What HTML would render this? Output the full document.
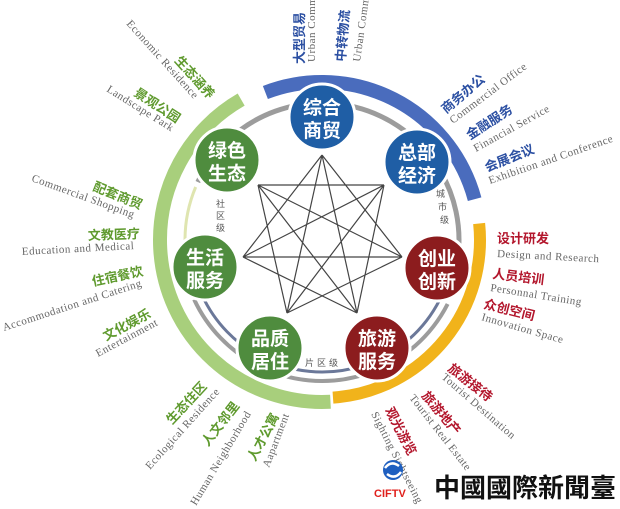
<!DOCTYPE html>
<html><head><meta charset="utf-8"><style>
html,body{margin:0;padding:0;background:#fff;}
svg{display:block;}
.cn{font-family:"Liberation Sans","Noto Sans CJK SC",sans-serif;font-weight:bold;}
.en{font-family:"Liberation Serif",serif;fill:#666;font-size:11px;letter-spacing:0.5px;}
.b{fill:#2b4fa2;font-size:13px;}
.g{fill:#5f9a2e;font-size:13px;}
.r{fill:#b3162c;font-size:13px;}
.node{font-family:"Liberation Sans","Noto Sans CJK SC",sans-serif;fill:#fff;font-size:19px;font-weight:bold;text-anchor:middle;}
.sm{font-family:"Liberation Sans","Noto Sans CJK SC",sans-serif;font-size:9px;fill:#555;}
</style></head><body>
<svg width="620" height="509" viewBox="0 0 620 509" xmlns="http://www.w3.org/2000/svg">
<circle cx="322" cy="240" r="158" fill="none" stroke="#4a6cbd" stroke-width="14" stroke-dasharray="264.7 2000" transform="rotate(-111 322 240)"/>
<circle cx="322" cy="240" r="162" fill="none" stroke="#a8cf7c" stroke-width="14" stroke-dasharray="432.6 2000" transform="rotate(87 322 240)"/>
<circle cx="322" cy="240" r="158" fill="none" stroke="#f1b31b" stroke-width="12" stroke-dasharray="253.7 2000" transform="rotate(-6 322 240)"/>
<circle cx="322" cy="240" r="137" fill="none" stroke="#9c9c9c" stroke-width="5" stroke-dasharray="382.6 2000" transform="rotate(205 322 240)"/>
<circle cx="322" cy="240" r="137" fill="none" stroke="#dfe5b0" stroke-width="3" stroke-dasharray="107 2000" transform="rotate(158 322 240)"/>
<circle cx="322" cy="240" r="141" fill="none" stroke="#9c9c9c" stroke-width="4" stroke-dasharray="315 2000" transform="rotate(27 322 240)"/>
<circle cx="322" cy="240" r="132" fill="none" stroke="#6b7899" stroke-width="3" stroke-dasharray="295 2000" transform="rotate(27 322 240)"/>
<g stroke="#444" stroke-width="1.2" fill="none">
<path d="M322 155L402 257M322 155L357 313M322 155L287 313M322 155L243 257
M384 185L258 185M384 185L357 313M384 185L287 313M384 185L243 257
M402 257L287 313M402 257L243 257M402 257L258 185
M357 313L243 257M357 313L258 185
M287 313L258 185"/>
</g>
<text class="sm" x="216" y="207">社</text><text class="sm" x="216" y="219">区</text><text class="sm" x="216" y="231">级</text>
<text class="sm" x="436" y="197">城</text><text class="sm" x="438" y="210">市</text><text class="sm" x="440" y="223">级</text>
<text class="sm" x="305" y="366" letter-spacing="3">片区级</text>
<g stroke="#fff" stroke-width="3">
<circle cx="322" cy="117" r="33" fill="#1f5ea5"/>
<circle cx="417" cy="162" r="33" fill="#1f5ea5"/>
<circle cx="227" cy="160" r="33" fill="#4f8c3e"/>
<circle cx="205" cy="267" r="33" fill="#4f8c3e"/>
<circle cx="437" cy="268" r="33" fill="#8c1c1e"/>
<circle cx="270" cy="348" r="33" fill="#4f8c3e"/>
<circle cx="377" cy="348" r="33" fill="#8c1c1e"/>
</g>
<text class="node" x="322" y="114">综合</text><text class="node" x="322" y="137">商贸</text>
<text class="node" x="417" y="159">总部</text><text class="node" x="417" y="182">经济</text>
<text class="node" x="227" y="157">绿色</text><text class="node" x="227" y="180">生态</text>
<text class="node" x="205" y="264">生活</text><text class="node" x="205" y="287">服务</text>
<text class="node" x="437" y="265">创业</text><text class="node" x="437" y="288">创新</text>
<text class="node" x="270" y="345">品质</text><text class="node" x="270" y="368">居住</text>
<text class="node" x="377" y="345">旅游</text><text class="node" x="377" y="368">服务</text>
<text class="cn b" transform="translate(304,64) rotate(-90)">大型贸易</text>
<text class="en" transform="translate(315,62) rotate(-90)">Urban Commercial</text>
<text class="cn b" transform="translate(345,62) rotate(-85)">中转物流</text>
<text class="en" transform="translate(360,62) rotate(-82)">Urban Commercial</text>
<text class="cn b" transform="translate(446,114) rotate(-40)">商务办公</text>
<text class="en" transform="translate(453,124) rotate(-37)">Commercial Office</text>
<text class="cn b" transform="translate(470,140) rotate(-33)">金融服务</text>
<text class="en" transform="translate(476,152) rotate(-29)">Financial Service</text>
<text class="cn b" transform="translate(487,172) rotate(-22)">会展会议</text>
<text class="en" transform="translate(490,184) rotate(-19)">Exhibition and Conference</text>
<text class="cn r" transform="translate(497,243)">设计研发</text>
<text class="en" transform="translate(497,257) rotate(3)">Design and Research</text>
<text class="cn r" transform="translate(492,278) rotate(7)">人员培训</text>
<text class="en" transform="translate(490,291) rotate(9)">Personnal Training</text>
<text class="cn r" transform="translate(483,308) rotate(14)">众创空间</text>
<text class="en" transform="translate(481,320) rotate(16)">Innovation Space</text>
<text class="cn r" transform="translate(447,370) rotate(38)">旅游接待</text>
<text class="en" transform="translate(441,378) rotate(41)">Tourist Destination</text>
<text class="cn r" transform="translate(421,396) rotate(50)">旅游地产</text>
<text class="en" transform="translate(409,398) rotate(52)">Tourist Real Estate</text>
<text class="cn r" transform="translate(385,410) rotate(63)">观光游览</text>
<text class="en" transform="translate(371,414) rotate(63)">Sighting Sightseeing</text>
<text class="en" transform="translate(126,24) rotate(48)">Economic Residence</text>
<text class="cn g" transform="translate(174,61) rotate(48)">生态涵养</text>
<text class="en" transform="translate(106,91) rotate(32)">Landscape Park</text>
<text class="cn g" transform="translate(133,95) rotate(33)">景观公园</text>
<text class="en" transform="translate(31,181) rotate(20)">Commercial Shopping</text>
<text class="cn g" transform="translate(92,190) rotate(22)">配套商贸</text>
<text class="cn g" transform="translate(88,240) rotate(-2)">文教医疗</text>
<text class="en" transform="translate(22,255) rotate(-3)">Education and Medical</text>
<text class="cn g" transform="translate(93,286) rotate(-12)">住宿餐饮</text>
<text class="en" transform="translate(4,331) rotate(-18)">Accommodation and Catering</text>
<text class="cn g" transform="translate(106,341) rotate(-28)">文化娱乐</text>
<text class="en" transform="translate(98,357) rotate(-28)">Entertainment</text>
<text class="cn g" transform="translate(172,425) rotate(-47)">生态住区</text>
<text class="en" transform="translate(150,470) rotate(-48)">Ecological Residence</text>
<text class="cn g" transform="translate(208,447) rotate(-52)">人文邻里</text>
<text class="en" transform="translate(196,506) rotate(-59)">Human Neighborhood</text>
<text class="cn g" transform="translate(255,462) rotate(-62)">人才公寓</text>
<text class="en" transform="translate(269,468) rotate(-69)">Aapartment</text>
<circle cx="393" cy="470" r="10" fill="#1e5fc0"/>
<path d="M385 468 q6 -8 14 -2" stroke="#fff" stroke-width="2.5" fill="none"/>
<path d="M401 472 q-6 8 -14 2" stroke="#fff" stroke-width="2.5" fill="none"/>
<text x="374" y="497" font-family="Liberation Sans,sans-serif" font-weight="bold" font-size="11" fill="#e0201c">CIFTV</text>
<text x="434" y="497" font-family="Liberation Sans,'Noto Sans CJK TC',sans-serif" font-weight="bold" font-size="26" fill="#111">中國國際新聞臺</text>
</svg>
</body></html>
